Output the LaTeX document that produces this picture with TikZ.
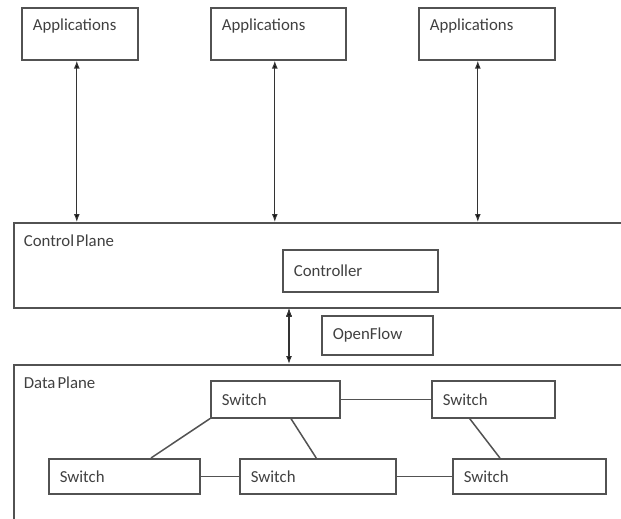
\documentclass[tikz,border=0pt]{standalone}
\usepackage{fontspec}
\setmainfont{Carlito}
\usetikzlibrary{arrows.meta,calc}

\begin{document}
\begin{tikzpicture}[
                x=1pt,
                y=-1pt,
                every node/.style={font=\fontsize{16.8}{18}\selectfont, text=black!75},
                box/.style={draw=black!68, line width=1.6pt, anchor=north west,
                    inner xsep=11pt, inner ysep=0pt, align=left},
                plane/.style={box, inner xsep=10pt, text height=24pt},
                link/.style={draw=black!68, line width=1.5pt},
                duplex/.style={draw=black!80, line width=1.2pt,
                    {Latex[length=8pt,width=6pt]}-{Latex[length=8pt,width=6pt]}}]
            \useasboundingbox (0,0) rectangle (621,519);
            \clip (0,0) rectangle (621,519);

            % planes
            \node[plane, text width=607pt, text depth=61pt]  (cplane) at (13,222) {Control\hspace{0.12em}Plane};
            \node[plane, text width=607pt, text depth=200pt] (dplane) at (13,364) {Data\hspace{0.12em}Plane};

            % applications
            \node[box, text width=94pt,  text height=23pt, text depth=29pt] (app1) at (21,7)  {Applications};
            \node[box, text width=113pt, text height=23pt, text depth=29pt] (app2) at (210,7) {Applications};
            \node[box, text width=114pt, text height=23pt, text depth=29pt] (app3) at (418,7) {Applications};

            % controller and protocol
            \node[box, text width=133pt, minimum height=42pt] (ctrl) at (282,249) {Controller};
            \node[box, text width=89pt,  minimum height=39pt] (ofp)  at (321,315) {OpenFlow};

            % switches
            \node[box, text width=107pt, minimum height=37pt] (sw1) at (210,380) {Switch};
            \node[box, text width=101pt, minimum height=37pt] (sw2) at (431,380) {Switch};
            \node[box, text width=129pt, minimum height=35pt] (sw3) at (48,458)  {Switch};
            \node[box, text width=134pt, minimum height=35pt] (sw4) at (239,458) {Switch};
            \node[box, text width=131pt, minimum height=35pt] (sw5) at (452,458) {Switch};

            \path[duplex]
            ([xshift=-3pt]app1.south)
                edge ([xshift=-3pt]app1.south |- cplane.north)
            ([xshift=-3.5pt]app2.south)
                edge ([xshift=-3.5pt]app2.south |- cplane.north)
            ([xshift=-9pt]app3.south)
                edge ([xshift=-9pt]app3.south |- cplane.north)
            ([xshift=-32pt]ofp.west |- cplane.south)
                edge ([xshift=-32pt]ofp.west |- dplane.north);

            \path[link]
            (sw1.east) edge (sw2.west)
            (sw3.east) edge (sw4.west)
            (sw4.east) edge (sw5.west)
            (sw1.south west)
                edge ($(sw3.north west)!0.675!(sw3.north east)$)
            ($(sw1.south west)!0.62!(sw1.south east)$)
                edge ($(sw4.north west)!0.49!(sw4.north east)$)
            ($(sw2.south west)!0.31!(sw2.south east)$)
                edge ($(sw5.north west)!0.31!(sw5.north east)$);
        \end{tikzpicture}
\end{document}
